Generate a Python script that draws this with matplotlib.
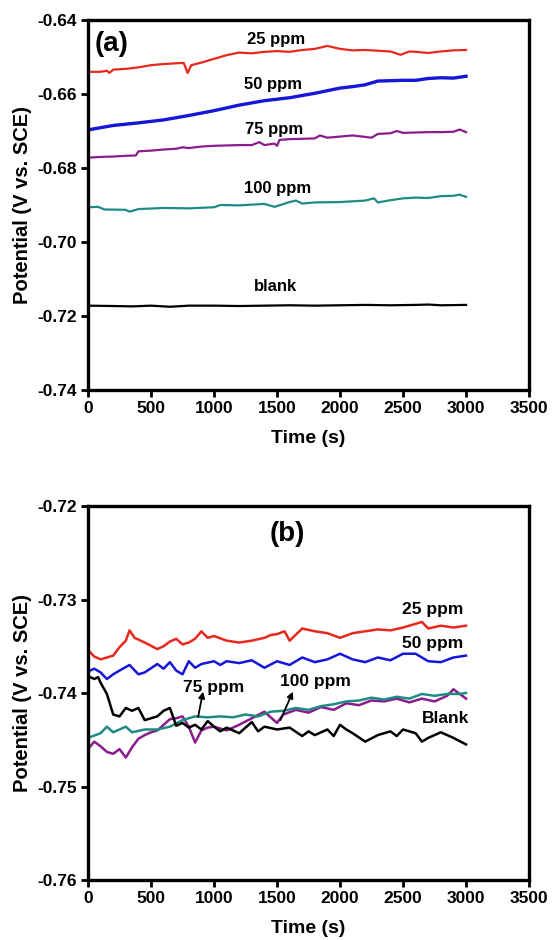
import matplotlib
matplotlib.use("Agg")
import matplotlib.pyplot as plt

plt.rcParams['font.family'] = ['Liberation Sans', 'DejaVu Sans']
plt.rcParams['font.weight'] = 'bold'

# ---- panel (a) data: time (s), potential (V vs. SCE)
a_t_25 = [0, 100, 150, 170, 200, 300, 400, 500, 600, 700, 760, 790, 820, 900,
          1000, 1100, 1200, 1300, 1400, 1500, 1600, 1700, 1800, 1900, 2000,
          2100, 2200, 2300, 2400, 2480, 2550, 2600, 2700, 2800, 2900, 3000]
a_v_25 = [-0.6540, -0.6540, -0.6537, -0.6543, -0.6534, -0.6532, -0.6528,
          -0.6522, -0.6519, -0.6517, -0.6516, -0.6543, -0.6522, -0.6515,
          -0.6505, -0.6495, -0.6488, -0.6490, -0.6486, -0.6484, -0.6486,
          -0.6481, -0.6478, -0.6470, -0.6478, -0.6482, -0.6481, -0.6483,
          -0.6485, -0.6494, -0.6485, -0.6486, -0.6489, -0.6485, -0.6482, -0.6481]

a_t_50 = [0, 200, 400, 600, 800, 1000, 1200, 1400, 1600, 1800, 2000, 2100,
          2200, 2250, 2300, 2500, 2600, 2700, 2800, 2900, 3000]
a_v_50 = [-0.6697, -0.6685, -0.6678, -0.6670, -0.6658, -0.6645, -0.6630,
          -0.6618, -0.6610, -0.6598, -0.6584, -0.6580, -0.6575, -0.6570,
          -0.6565, -0.6563, -0.6563, -0.6558, -0.6556, -0.6557, -0.6552]

a_t_75 = [0, 100, 200, 300, 380, 400, 500, 600, 700, 750, 800, 900, 1000,
          1100, 1200, 1300, 1360, 1400, 1480, 1500, 1520, 1600, 1700, 1800,
          1840, 1900, 2000, 2100, 2200, 2250, 2300, 2400, 2450, 2500, 2600,
          2700, 2800, 2900, 2950, 3000]
a_v_75 = [-0.6772, -0.6770, -0.6769, -0.6767, -0.6766, -0.6755, -0.6753,
          -0.6750, -0.6748, -0.6744, -0.6746, -0.6742, -0.6740, -0.6739,
          -0.6738, -0.6738, -0.6730, -0.6738, -0.6734, -0.6740, -0.6724,
          -0.6722, -0.6721, -0.6720, -0.6712, -0.6718, -0.6715, -0.6712,
          -0.6716, -0.6718, -0.6708, -0.6706, -0.6700, -0.6705, -0.6704,
          -0.6703, -0.6703, -0.6702, -0.6696, -0.6703]

a_t_100 = [0, 80, 130, 300, 330, 400, 600, 800, 1000, 1050, 1200, 1400, 1480,
           1600, 1650, 1700, 1800, 2000, 2200, 2270, 2300, 2400, 2500, 2600,
           2700, 2800, 2900, 2950, 3000]
a_v_100 = [-0.6906, -0.6905, -0.6912, -0.6913, -0.6918, -0.6911, -0.6908,
           -0.6909, -0.6906, -0.6900, -0.6901, -0.6897, -0.6905, -0.6892,
           -0.6888, -0.6896, -0.6893, -0.6892, -0.6888, -0.6882, -0.6893,
           -0.6887, -0.6882, -0.6880, -0.6881, -0.6876, -0.6875, -0.6872, -0.6878]

a_t_blank = [0, 200, 350, 500, 650, 800, 1000, 1200, 1400, 1600, 1800, 2000,
             2200, 2400, 2600, 2700, 2800, 3000]
a_v_blank = [-0.7172, -0.7173, -0.7174, -0.7172, -0.7175, -0.7172, -0.7172,
             -0.7173, -0.7172, -0.7171, -0.7172, -0.7171, -0.7170, -0.7171,
             -0.7170, -0.7169, -0.7171, -0.7170]

# ---- panel (b) data
b_t_25 = [0, 50, 100, 150, 200, 250, 300, 330, 370, 450, 550, 600, 650, 700,
          750, 800, 850, 900, 950, 1000, 1100, 1200, 1300, 1400, 1450, 1500,
          1560, 1600, 1700, 1800, 1900, 2000, 2100, 2200, 2300, 2400, 2500,
          2600, 2650, 2700, 2800, 2900, 3000]
b_v_25 = [-0.7354, -0.7361, -0.7364, -0.7362, -0.7360, -0.7351, -0.7344,
          -0.7333, -0.7341, -0.7346, -0.7353, -0.7350, -0.7345, -0.7342,
          -0.7348, -0.7346, -0.7342, -0.7334, -0.7341, -0.7339, -0.7344,
          -0.7346, -0.7344, -0.7341, -0.7338, -0.7337, -0.7334, -0.7344,
          -0.7331, -0.7334, -0.7336, -0.7341, -0.7336, -0.7334, -0.7332,
          -0.7333, -0.7330, -0.7326, -0.7324, -0.7331, -0.7328, -0.7330, -0.7328]

b_t_50 = [0, 50, 100, 150, 200, 250, 330, 400, 450, 550, 600, 650, 700, 750,
          800, 850, 900, 1000, 1050, 1100, 1200, 1300, 1400, 1500, 1600, 1700,
          1800, 1900, 2000, 2100, 2200, 2300, 2400, 2500, 2600, 2700, 2800,
          2900, 3000]
b_v_50 = [-0.7377, -0.7374, -0.7378, -0.7385, -0.7380, -0.7376, -0.7370,
          -0.7380, -0.7378, -0.7369, -0.7374, -0.7367, -0.7376, -0.7380,
          -0.7366, -0.7373, -0.7369, -0.7366, -0.7370, -0.7366, -0.7368,
          -0.7365, -0.7373, -0.7366, -0.7370, -0.7362, -0.7367, -0.7364,
          -0.7358, -0.7364, -0.7367, -0.7362, -0.7365, -0.7358, -0.7358,
          -0.7366, -0.7367, -0.7362, -0.7360]

b_t_75 = [0, 50, 100, 150, 200, 250, 300, 350, 400, 450, 500, 550, 600, 650,
          700, 750, 800, 850, 900, 950, 1000, 1100, 1200, 1300, 1400, 1500,
          1550, 1650, 1750, 1850, 1950, 2050, 2150, 2250, 2350, 2450, 2550,
          2650, 2750, 2850, 2900, 2950, 3000]
b_v_75 = [-0.7460, -0.7452, -0.7457, -0.7463, -0.7465, -0.7460, -0.7469,
          -0.7458, -0.7449, -0.7445, -0.7442, -0.7440, -0.7434, -0.7428,
          -0.7427, -0.7425, -0.7436, -0.7453, -0.7440, -0.7437, -0.7436,
          -0.7440, -0.7434, -0.7427, -0.7420, -0.7432, -0.7423, -0.7418,
          -0.7421, -0.7415, -0.7418, -0.7411, -0.7413, -0.7408, -0.7409,
          -0.7406, -0.7410, -0.7406, -0.7409, -0.7403, -0.7396, -0.7401, -0.7406]

b_t_100 = [0, 100, 150, 200, 300, 350, 450, 550, 650, 750, 850, 950, 1050,
           1150, 1250, 1350, 1450, 1550, 1650, 1750, 1850, 1950, 2050, 2150,
           2250, 2350, 2450, 2550, 2650, 2750, 2850, 2950, 3000]
b_v_100 = [-0.7448, -0.7443, -0.7436, -0.7442, -0.7436, -0.7442, -0.7439,
           -0.7439, -0.7436, -0.7429, -0.7425, -0.7426, -0.7425, -0.7426,
           -0.7423, -0.7425, -0.7420, -0.7419, -0.7416, -0.7418, -0.7414,
           -0.7412, -0.7409, -0.7408, -0.7405, -0.7407, -0.7404, -0.7406,
           -0.7401, -0.7403, -0.7401, -0.7401, -0.7400]

b_t_blank = [0, 50, 80, 100, 150, 200, 250, 300, 350, 400, 450, 500, 550, 600,
             650, 700, 750, 800, 850, 900, 950, 1000, 1050, 1100, 1200, 1300,
             1350, 1400, 1500, 1600, 1700, 1750, 1800, 1900, 1950, 2000, 2050,
             2100, 2200, 2300, 2400, 2450, 2500, 2600, 2650, 2700, 2800, 2900, 3000]
b_v_blank = [-0.7382, -0.7385, -0.7383, -0.7389, -0.7401, -0.7423, -0.7425,
             -0.7416, -0.7419, -0.7416, -0.7429, -0.7427, -0.7425, -0.7419,
             -0.7416, -0.7435, -0.7432, -0.7437, -0.7434, -0.7439, -0.7430,
             -0.7436, -0.7441, -0.7437, -0.7443, -0.7431, -0.7441, -0.7436,
             -0.7439, -0.7437, -0.7446, -0.7441, -0.7445, -0.7439, -0.7446,
             -0.7434, -0.7439, -0.7443, -0.7452, -0.7445, -0.7441, -0.7446,
             -0.7439, -0.7443, -0.7452, -0.7448, -0.7442, -0.7448, -0.7455]

RED = '#e8281e'
BLUE = '#1616d8'
PURPLE = '#8a1c8c'
TEAL = '#1e8c84'
BLACK = '#000000'


def style_axes(ax, ylim, yticks):
    ax.set_xlim(0, 3500)
    ax.set_ylim(*ylim)
    ax.set_xticks(range(0, 3501, 500))
    ax.set_yticks(yticks)
    ax.set_yticklabels(['%.2f' % v for v in yticks])
    for sp in ax.spines.values():
        sp.set_linewidth(2.4)
    ax.tick_params(direction='out', length=5, width=2, labelsize=12.5, pad=3,
                   top=False, right=False)
    for lab in ax.get_xticklabels() + ax.get_yticklabels():
        lab.set_fontweight('bold')
    ax.set_xlabel('Time (s)', fontsize=14, fontweight='bold', labelpad=10)
    ax.set_ylabel('Potential (V vs. SCE)', fontsize=14.5, fontweight='bold',
                  labelpad=4)


fig = plt.figure(figsize=(5.52, 9.40), dpi=100)
ax1 = fig.add_axes([0.1594, 0.5851, 0.799, 0.3936])
ax2 = fig.add_axes([0.1594, 0.0638, 0.799, 0.3979])

# panel (a)
ax1.plot(a_t_25, a_v_25, color=RED, lw=1.6)
ax1.plot(a_t_50, a_v_50, color=BLUE, lw=2.4)
ax1.plot(a_t_75, a_v_75, color=PURPLE, lw=1.6)
ax1.plot(a_t_100, a_v_100, color=TEAL, lw=1.6)
ax1.plot(a_t_blank, a_v_blank, color=BLACK, lw=1.6)
style_axes(ax1, (-0.74, -0.64), [-0.74, -0.72, -0.70, -0.68, -0.66, -0.64])

tkw = dict(fontsize=12, fontweight='bold', va='center')
ax1.text(50, -0.6465, '(a)', fontsize=20, fontweight='bold', va='center')
ax1.text(1490, -0.6452, '25 ppm', ha='center', **tkw)
ax1.text(1470, -0.6573, '50 ppm', ha='center', **tkw)
ax1.text(1480, -0.6695, '75 ppm', ha='center', **tkw)
ax1.text(1508, -0.6856, '100 ppm', ha='center', **tkw)
ax1.text(1485, -0.7121, 'blank', ha='center', **tkw)

# panel (b)
ax2.plot(b_t_25, b_v_25, color=RED, lw=1.8)
ax2.plot(b_t_50, b_v_50, color=BLUE, lw=1.8)
ax2.plot(b_t_75, b_v_75, color=PURPLE, lw=1.8)
ax2.plot(b_t_100, b_v_100, color=TEAL, lw=1.8)
ax2.plot(b_t_blank, b_v_blank, color=BLACK, lw=1.8)
style_axes(ax2, (-0.76, -0.72), [-0.76, -0.75, -0.74, -0.73, -0.72])

tkw = dict(fontsize=12.5, fontweight='bold', va='center')
ax2.text(1578, -0.7230, '(b)', ha='center', fontsize=20, fontweight='bold',
         va='center')
ax2.text(2980, -0.7311, '25 ppm', ha='right', **tkw)
ax2.text(2980, -0.7347, '50 ppm', ha='right', **tkw)
ax2.text(3025, -0.7427, 'Blank', ha='right', **tkw)
ax2.text(998, -0.7394, '75 ppm', ha='center', **tkw)
ax2.text(1804, -0.7388, '100 ppm', ha='center', **tkw)
akw = dict(arrowstyle='-|>', color='black', lw=1.3, mutation_scale=9,
           shrinkA=0, shrinkB=0)
ax2.annotate('', xy=(913, -0.73986), xytext=(874, -0.74255), arrowprops=akw)
ax2.annotate('', xy=(1626, -0.73986), xytext=(1527, -0.7429), arrowprops=akw)

fig.savefig('out.png', dpi=100)
